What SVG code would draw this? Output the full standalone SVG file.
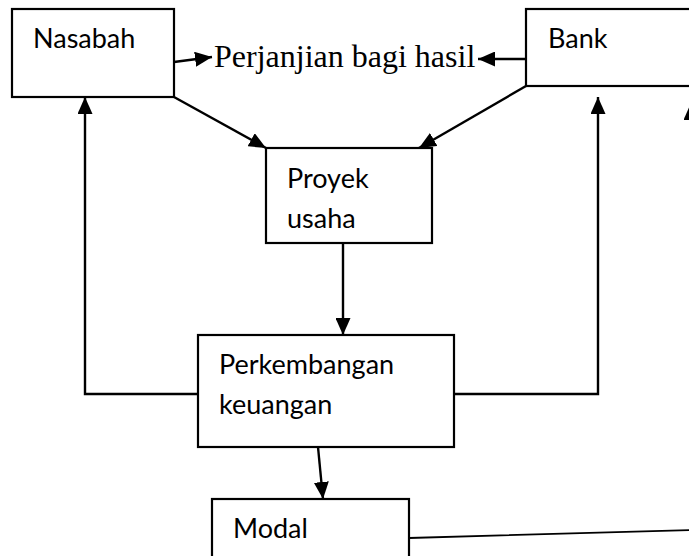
<svg xmlns="http://www.w3.org/2000/svg" width="689" height="556" viewBox="0 0 689 556">
<defs>
<style>
.box{fill:#fff;stroke:#000;stroke-width:2.2}
.lbl{font-family:Lato,"Liberation Sans",sans-serif;font-size:27px;fill:#000}
.ser{font-family:"Liberation Serif",serif;font-size:32px;fill:#000}
.c{fill:none;stroke:#000;stroke-width:2.4}
</style>
<marker id="ah" markerUnits="userSpaceOnUse" markerWidth="18" markerHeight="15" refX="17" refY="7.5" orient="auto">
<path d="M0,0 L17,7.5 L0,15 z" fill="#000"/>
</marker>
</defs>
<rect width="689" height="556" fill="#fff"/>
<g id="connectors">
<path class="c" d="M174,62 L212,57" marker-end="url(#ah)"/>
<path class="c" d="M526,59 L478,59" marker-end="url(#ah)"/>
<path class="c" d="M174,97 L266,148" marker-end="url(#ah)"/>
<path class="c" d="M526,86 L419,148" marker-end="url(#ah)"/>
<path class="c" d="M343,243 L343,335" marker-end="url(#ah)"/>
<path class="c" d="M318,447 L323,499" marker-end="url(#ah)"/>
<path class="c" d="M198,394 L85,394 L85,97" marker-end="url(#ah)"/>
<path class="c" d="M454,394 L598,394 L598,97" marker-end="url(#ah)"/>
<path class="c" style="stroke-width:1.8" d="M409,538 L691,530 L691,103" marker-end="url(#ah)"/>
</g>
<g id="nasabah">
<rect class="box" x="12" y="9" width="162" height="88"/>
<text class="lbl" x="33" y="48">Nasabah</text>
</g>
<g id="bank">
<rect class="box" x="526" y="9" width="180" height="77"/>
<text class="lbl" x="548" y="48">Bank</text>
</g>
<g id="perjanjian">
<text class="ser" x="214" y="67">Perjanjian bagi hasil</text>
</g>
<g id="proyek">
<rect class="box" x="266" y="148" width="166" height="95"/>
<text class="lbl" x="287" y="188">Proyek</text>
<text class="lbl" x="287" y="228">usaha</text>
</g>
<g id="perkembangan">
<rect class="box" x="198" y="335" width="256" height="112"/>
<text class="lbl" x="219" y="374">Perkembangan</text>
<text class="lbl" x="219" y="414">keuangan</text>
</g>
<g id="modal">
<rect class="box" x="212" y="499" width="197" height="80"/>
<text class="lbl" x="233" y="538">Modal</text>
</g>
</svg>
